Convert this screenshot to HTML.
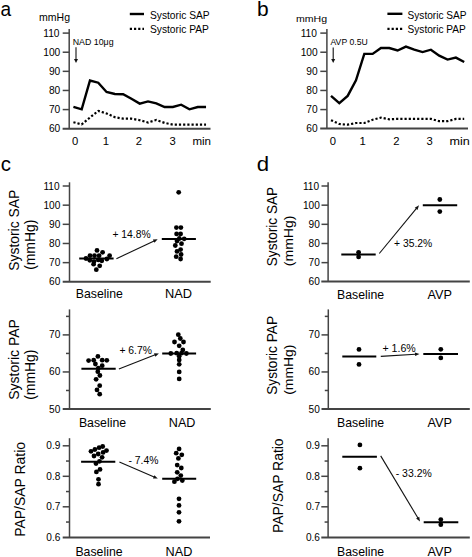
<!DOCTYPE html>
<html><head><meta charset="utf-8"><style>
html,body{margin:0;padding:0;background:#fff;width:472px;height:557px;overflow:hidden;position:relative;font-family:"Liberation Sans", sans-serif;}
text{font-family:"Liberation Sans", sans-serif;}
</style></head><body>
<svg width="472" height="557" viewBox="0 0 472 557" style="position:absolute;left:0;top:0;font-family:'Liberation Sans', sans-serif">
<rect width="472" height="557" fill="#fff"/>
<text transform="translate(0.59,15.70) scale(0.9505,1)" font-size="20.07" fill="#000" >a</text>
<text transform="translate(257.05,15.60) scale(1.0819,1)" font-size="19.32" fill="#000" >b</text>
<text transform="translate(0.63,171.30) scale(0.9806,1)" font-size="20.81" fill="#000" >c</text>
<text transform="translate(256.87,171.00) scale(1.1347,1)" font-size="19.60" fill="#000" >d</text>
<line x1="69.20" y1="29.00" x2="69.20" y2="128.70" stroke="#444" stroke-width="1.5" />
<line x1="62.70" y1="33.10" x2="69.20" y2="33.10" stroke="#444" stroke-width="1.5" />
<line x1="62.70" y1="52.22" x2="69.20" y2="52.22" stroke="#444" stroke-width="1.5" />
<line x1="62.70" y1="71.34" x2="69.20" y2="71.34" stroke="#444" stroke-width="1.5" />
<line x1="62.70" y1="90.46" x2="69.20" y2="90.46" stroke="#444" stroke-width="1.5" />
<line x1="62.70" y1="109.58" x2="69.20" y2="109.58" stroke="#444" stroke-width="1.5" />
<line x1="62.60" y1="128.70" x2="210.50" y2="128.70" stroke="#444" stroke-width="2.0" />
<text transform="translate(43.28,36.66) scale(1.0000,1)" font-size="10.20" fill="#000" >110</text>
<text transform="translate(43.28,55.78) scale(1.0000,1)" font-size="10.20" fill="#000" >100</text>
<text transform="translate(48.95,74.90) scale(1.0000,1)" font-size="10.20" fill="#000" >90</text>
<text transform="translate(48.95,94.02) scale(1.0000,1)" font-size="10.20" fill="#000" >80</text>
<text transform="translate(48.95,113.14) scale(1.0000,1)" font-size="10.20" fill="#000" >70</text>
<text transform="translate(48.95,132.26) scale(1.0000,1)" font-size="10.20" fill="#000" >60</text>
<text transform="translate(39.10,20.90) scale(1.0340,1)" font-size="10.17" fill="#000" >mmHg</text>
<text transform="translate(72.68,44.80) scale(0.9939,1)" font-size="8.88" fill="#000" >NAD 10μg</text>
<line x1="76.00" y1="47.30" x2="76.00" y2="59.50" stroke="#111" stroke-width="1.1" />
<polygon points="76.00,63.00 74.00,59.00 78.00,59.00" fill="#111"/>
<polyline points="73.40,106.90 81.69,109.30 89.98,80.50 98.27,82.70 106.56,92.00 114.85,94.00 123.14,94.20 131.43,98.80 139.72,103.60 148.01,101.40 156.30,103.40 164.59,107.00 172.88,107.00 181.17,104.70 189.46,109.30 197.75,107.00 206.04,107.00" fill="none" stroke="#000" stroke-width="2.4" stroke-linejoin="miter" />
<polyline points="73.40,122.20 81.69,124.40 89.98,117.50 98.27,110.90 106.56,113.50 114.85,117.20 123.14,118.70 131.43,118.70 139.72,120.20 148.01,122.50 156.30,120.00 164.59,122.90 172.88,124.60 181.17,124.60 189.46,124.60 197.75,124.60 206.04,124.60" fill="none" stroke="#000" stroke-width="2.2" stroke-linejoin="miter" stroke-dasharray="2.2 2.0"/>
<line x1="129.80" y1="14.00" x2="144.00" y2="14.00" stroke="#000" stroke-width="2.4" />
<line x1="129.80" y1="28.80" x2="144.00" y2="28.80" stroke="#000" stroke-width="2.2" stroke-dasharray="2.2 2.0"/>
<text transform="translate(149.93,19.00) scale(0.9284,1)" font-size="11.04" fill="#000" >Systoric SAP</text>
<text transform="translate(149.93,33.00) scale(0.9284,1)" font-size="11.04" fill="#000" >Systoric PAP</text>
<text transform="translate(71.97,144.60) scale(1.0206,1)" font-size="11.03" fill="#000" >0</text>
<text transform="translate(102.68,144.60) scale(1.0178,1)" font-size="11.19" fill="#000" >1</text>
<text transform="translate(135.75,144.60) scale(1.0262,1)" font-size="11.03" fill="#000" >2</text>
<text transform="translate(169.60,144.60) scale(1.0216,1)" font-size="11.03" fill="#000" >3</text>
<text transform="translate(192.43,144.60) scale(1.0873,1)" font-size="10.63" fill="#000" >min</text>
<line x1="326.90" y1="29.00" x2="326.90" y2="128.60" stroke="#444" stroke-width="1.5" />
<line x1="320.30" y1="33.10" x2="326.90" y2="33.10" stroke="#444" stroke-width="1.5" />
<line x1="320.30" y1="52.22" x2="326.90" y2="52.22" stroke="#444" stroke-width="1.5" />
<line x1="320.30" y1="71.34" x2="326.90" y2="71.34" stroke="#444" stroke-width="1.5" />
<line x1="320.30" y1="90.46" x2="326.90" y2="90.46" stroke="#444" stroke-width="1.5" />
<line x1="320.30" y1="109.58" x2="326.90" y2="109.58" stroke="#444" stroke-width="1.5" />
<line x1="320.20" y1="128.50" x2="468.00" y2="128.50" stroke="#444" stroke-width="2.0" />
<text transform="translate(300.68,36.66) scale(1.0000,1)" font-size="10.20" fill="#000" >110</text>
<text transform="translate(300.68,55.78) scale(1.0000,1)" font-size="10.20" fill="#000" >100</text>
<text transform="translate(306.35,74.90) scale(1.0000,1)" font-size="10.20" fill="#000" >90</text>
<text transform="translate(306.35,94.02) scale(1.0000,1)" font-size="10.20" fill="#000" >80</text>
<text transform="translate(306.35,113.14) scale(1.0000,1)" font-size="10.20" fill="#000" >70</text>
<text transform="translate(306.35,132.26) scale(1.0000,1)" font-size="10.20" fill="#000" >60</text>
<text transform="translate(296.00,21.70) scale(1.0716,1)" font-size="9.88" fill="#000" >mmHg</text>
<text transform="translate(330.48,44.80) scale(0.9768,1)" font-size="8.88" fill="#000" >AVP 0.5U</text>
<line x1="333.20" y1="47.50" x2="333.20" y2="59.50" stroke="#111" stroke-width="1.1" />
<polygon points="333.20,63.00 331.20,59.00 335.20,59.00" fill="#111"/>
<polyline points="331.00,95.90 339.32,103.20 347.65,95.90 355.98,80.30 364.30,53.90 372.62,53.90 380.95,48.00 389.27,48.00 397.60,50.50 405.93,46.60 414.25,49.70 422.57,52.10 430.90,49.70 439.23,55.70 447.55,59.60 455.88,57.60 464.20,62.00" fill="none" stroke="#000" stroke-width="2.4" stroke-linejoin="miter" />
<polyline points="331.00,120.20 339.32,124.00 347.65,124.70 355.98,123.00 364.30,123.00 372.62,119.70 380.95,117.60 389.27,119.30 397.60,118.90 405.93,118.90 414.25,118.90 422.57,118.90 430.90,118.90 439.23,121.20 447.55,121.20 455.88,118.90 464.20,118.90" fill="none" stroke="#000" stroke-width="2.2" stroke-linejoin="miter" stroke-dasharray="2.2 2.0"/>
<line x1="387.40" y1="13.80" x2="402.40" y2="13.80" stroke="#000" stroke-width="2.4" />
<line x1="387.40" y1="28.80" x2="402.40" y2="28.80" stroke="#000" stroke-width="2.2" stroke-dasharray="2.2 2.0"/>
<text transform="translate(407.54,18.60) scale(0.9173,1)" font-size="11.04" fill="#000" >Systoric SAP</text>
<text transform="translate(407.54,32.60) scale(0.9173,1)" font-size="11.04" fill="#000" >Systoric PAP</text>
<text transform="translate(329.77,144.60) scale(1.0206,1)" font-size="11.03" fill="#000" >0</text>
<text transform="translate(359.48,144.60) scale(1.0178,1)" font-size="11.19" fill="#000" >1</text>
<text transform="translate(393.15,144.60) scale(1.0262,1)" font-size="11.03" fill="#000" >2</text>
<text transform="translate(426.40,144.60) scale(1.0216,1)" font-size="11.03" fill="#000" >3</text>
<text transform="translate(449.47,144.60) scale(1.1827,1)" font-size="10.63" fill="#000" >min</text>
<line x1="69.50" y1="182.30" x2="69.50" y2="281.80" stroke="#444" stroke-width="1.5" />
<line x1="62.70" y1="281.80" x2="210.70" y2="281.80" stroke="#444" stroke-width="2.0" />
<text transform="translate(43.44,189.53) scale(1.0000,1)" font-size="10.10" fill="#000" >110</text>
<text transform="translate(43.44,208.69) scale(1.0000,1)" font-size="10.10" fill="#000" >100</text>
<text transform="translate(49.06,227.85) scale(1.0000,1)" font-size="10.10" fill="#000" >90</text>
<text transform="translate(49.06,247.01) scale(1.0000,1)" font-size="10.10" fill="#000" >80</text>
<text transform="translate(49.06,266.17) scale(1.0000,1)" font-size="10.10" fill="#000" >70</text>
<text transform="translate(49.06,285.33) scale(1.0000,1)" font-size="10.10" fill="#000" >60</text>
<line x1="62.70" y1="186.00" x2="69.50" y2="186.00" stroke="#444" stroke-width="1.5" />
<line x1="62.70" y1="205.16" x2="69.50" y2="205.16" stroke="#444" stroke-width="1.5" />
<line x1="62.70" y1="224.32" x2="69.50" y2="224.32" stroke="#444" stroke-width="1.5" />
<line x1="62.70" y1="243.48" x2="69.50" y2="243.48" stroke="#444" stroke-width="1.5" />
<line x1="62.70" y1="262.64" x2="69.50" y2="262.64" stroke="#444" stroke-width="1.5" />
<text transform="translate(19.30,270.73) rotate(-90) scale(0.9485,1)" font-size="14.63" fill="#000">Systoric SAP</text>
<text transform="translate(75.69,297.90) scale(1.0144,1)" font-size="12.14" fill="#000" >Baseline</text>
<text transform="translate(165.05,297.90) scale(1.0022,1)" font-size="12.79" fill="#000" >NAD</text>
<line x1="79.20" y1="258.60" x2="113.60" y2="258.60" stroke="#000" stroke-width="2.0" />
<line x1="161.80" y1="239.00" x2="195.90" y2="239.00" stroke="#000" stroke-width="2.0" />
<line x1="116.40" y1="258.70" x2="154.08" y2="240.91" stroke="#111" stroke-width="1.1" />
<polygon points="157.70,239.20 154.40,242.75 152.86,239.49" fill="#111"/>
<text transform="translate(112.39,238.08) scale(1.0232,1)" font-size="10.12" fill="#000" >+ 14.8%</text>
<circle cx="86.00" cy="258.50" r="2.4" fill="#000"/>
<circle cx="90.00" cy="255.70" r="2.4" fill="#000"/>
<circle cx="94.50" cy="255.70" r="2.4" fill="#000"/>
<circle cx="99.10" cy="255.70" r="2.4" fill="#000"/>
<circle cx="97.00" cy="250.40" r="2.4" fill="#000"/>
<circle cx="102.60" cy="252.30" r="2.4" fill="#000"/>
<circle cx="89.80" cy="260.30" r="2.4" fill="#000"/>
<circle cx="94.00" cy="261.60" r="2.4" fill="#000"/>
<circle cx="98.30" cy="259.90" r="2.4" fill="#000"/>
<circle cx="101.80" cy="260.80" r="2.4" fill="#000"/>
<circle cx="106.90" cy="259.00" r="2.4" fill="#000"/>
<circle cx="109.60" cy="255.70" r="2.4" fill="#000"/>
<circle cx="93.60" cy="264.20" r="2.4" fill="#000"/>
<circle cx="99.70" cy="265.80" r="2.4" fill="#000"/>
<circle cx="96.30" cy="269.70" r="2.4" fill="#000"/>
<circle cx="178.70" cy="192.30" r="2.4" fill="#000"/>
<circle cx="176.40" cy="227.60" r="2.4" fill="#000"/>
<circle cx="180.90" cy="227.60" r="2.4" fill="#000"/>
<circle cx="176.60" cy="233.90" r="2.4" fill="#000"/>
<circle cx="180.60" cy="233.90" r="2.4" fill="#000"/>
<circle cx="179.30" cy="238.50" r="2.4" fill="#000"/>
<circle cx="184.20" cy="238.80" r="2.4" fill="#000"/>
<circle cx="177.00" cy="241.00" r="2.4" fill="#000"/>
<circle cx="181.50" cy="243.70" r="2.4" fill="#000"/>
<circle cx="175.30" cy="245.50" r="2.4" fill="#000"/>
<circle cx="180.60" cy="249.60" r="2.4" fill="#000"/>
<circle cx="177.00" cy="251.40" r="2.4" fill="#000"/>
<circle cx="181.10" cy="254.50" r="2.4" fill="#000"/>
<circle cx="176.20" cy="256.70" r="2.4" fill="#000"/>
<circle cx="180.60" cy="259.00" r="2.4" fill="#000"/>
<text transform="translate(19.20,399.84) rotate(-90) scale(0.9328,1)" font-size="15.04" fill="#000">Systoric PAP</text>
<line x1="69.50" y1="309.40" x2="69.50" y2="408.90" stroke="#444" stroke-width="1.5" />
<line x1="62.70" y1="334.90" x2="69.50" y2="334.90" stroke="#444" stroke-width="1.5" />
<line x1="62.70" y1="371.95" x2="69.50" y2="371.95" stroke="#444" stroke-width="1.5" />
<line x1="66.00" y1="316.38" x2="69.50" y2="316.38" stroke="#444" stroke-width="1.5" />
<line x1="66.00" y1="353.43" x2="69.50" y2="353.43" stroke="#444" stroke-width="1.5" />
<line x1="66.00" y1="390.48" x2="69.50" y2="390.48" stroke="#444" stroke-width="1.5" />
<line x1="62.70" y1="408.90" x2="210.80" y2="408.90" stroke="#444" stroke-width="2.0" />
<text transform="translate(49.06,338.43) scale(1.0000,1)" font-size="10.10" fill="#000" >70</text>
<text transform="translate(49.06,375.48) scale(1.0000,1)" font-size="10.10" fill="#000" >60</text>
<text transform="translate(49.06,412.53) scale(1.0000,1)" font-size="10.10" fill="#000" >50</text>
<text transform="translate(78.89,426.60) scale(0.9919,1)" font-size="12.42" fill="#000" >Baseline</text>
<text transform="translate(168.87,426.60) scale(0.9645,1)" font-size="13.08" fill="#000" >NAD</text>
<line x1="81.40" y1="368.80" x2="115.70" y2="368.80" stroke="#000" stroke-width="2.0" />
<line x1="162.20" y1="353.50" x2="196.10" y2="353.50" stroke="#000" stroke-width="2.0" />
<line x1="118.90" y1="369.00" x2="155.17" y2="354.85" stroke="#111" stroke-width="1.1" />
<polygon points="158.90,353.40 155.36,356.71 154.05,353.36" fill="#111"/>
<text transform="translate(119.39,354.26) scale(0.9892,1)" font-size="10.48" fill="#000" >+ 6.7%</text>
<circle cx="97.90" cy="356.40" r="2.4" fill="#000"/>
<circle cx="88.60" cy="360.60" r="2.4" fill="#000"/>
<circle cx="93.70" cy="360.20" r="2.4" fill="#000"/>
<circle cx="102.20" cy="360.20" r="2.4" fill="#000"/>
<circle cx="106.80" cy="360.30" r="2.4" fill="#000"/>
<circle cx="95.40" cy="364.00" r="2.4" fill="#000"/>
<circle cx="102.20" cy="365.70" r="2.4" fill="#000"/>
<circle cx="98.30" cy="368.20" r="2.4" fill="#000"/>
<circle cx="97.80" cy="371.70" r="2.4" fill="#000"/>
<circle cx="99.90" cy="375.50" r="2.4" fill="#000"/>
<circle cx="96.10" cy="379.30" r="2.4" fill="#000"/>
<circle cx="99.70" cy="385.70" r="2.4" fill="#000"/>
<circle cx="97.00" cy="389.90" r="2.4" fill="#000"/>
<circle cx="99.70" cy="394.20" r="2.4" fill="#000"/>
<circle cx="178.30" cy="334.70" r="2.4" fill="#000"/>
<circle cx="180.30" cy="338.50" r="2.4" fill="#000"/>
<circle cx="174.50" cy="342.00" r="2.4" fill="#000"/>
<circle cx="183.50" cy="342.00" r="2.4" fill="#000"/>
<circle cx="179.20" cy="345.80" r="2.4" fill="#000"/>
<circle cx="182.80" cy="350.00" r="2.4" fill="#000"/>
<circle cx="170.80" cy="353.50" r="2.4" fill="#000"/>
<circle cx="176.70" cy="353.20" r="2.4" fill="#000"/>
<circle cx="181.50" cy="353.20" r="2.4" fill="#000"/>
<circle cx="186.40" cy="353.50" r="2.4" fill="#000"/>
<circle cx="179.20" cy="356.20" r="2.4" fill="#000"/>
<circle cx="179.20" cy="360.00" r="2.4" fill="#000"/>
<circle cx="179.20" cy="364.30" r="2.4" fill="#000"/>
<circle cx="179.20" cy="371.90" r="2.4" fill="#000"/>
<circle cx="179.20" cy="378.90" r="2.4" fill="#000"/>
<line x1="69.50" y1="438.20" x2="69.50" y2="537.40" stroke="#444" stroke-width="1.5" />
<line x1="62.70" y1="445.80" x2="69.50" y2="445.80" stroke="#444" stroke-width="1.5" />
<line x1="62.70" y1="476.30" x2="69.50" y2="476.30" stroke="#444" stroke-width="1.5" />
<line x1="62.70" y1="506.80" x2="69.50" y2="506.80" stroke="#444" stroke-width="1.5" />
<line x1="66.00" y1="461.05" x2="69.50" y2="461.05" stroke="#444" stroke-width="1.5" />
<line x1="66.00" y1="491.55" x2="69.50" y2="491.55" stroke="#444" stroke-width="1.5" />
<line x1="66.00" y1="522.05" x2="69.50" y2="522.05" stroke="#444" stroke-width="1.5" />
<line x1="62.70" y1="537.40" x2="210.00" y2="537.40" stroke="#444" stroke-width="2.0" />
<text transform="translate(46.34,449.33) scale(1.0000,1)" font-size="10.10" fill="#000" >0.9</text>
<text transform="translate(46.30,479.83) scale(1.0000,1)" font-size="10.10" fill="#000" >0.8</text>
<text transform="translate(46.37,510.33) scale(1.0000,1)" font-size="10.10" fill="#000" >0.7</text>
<text transform="translate(46.30,540.83) scale(1.0000,1)" font-size="10.10" fill="#000" >0.6</text>
<text transform="translate(75.39,555.80) scale(1.0144,1)" font-size="12.14" fill="#000" >Baseline</text>
<text transform="translate(165.56,555.80) scale(0.9904,1)" font-size="12.79" fill="#000" >NAD</text>
<line x1="81.10" y1="461.80" x2="115.30" y2="461.80" stroke="#000" stroke-width="2.0" />
<line x1="162.20" y1="478.80" x2="196.20" y2="478.80" stroke="#000" stroke-width="2.0" />
<line x1="119.40" y1="462.10" x2="154.12" y2="477.02" stroke="#111" stroke-width="1.1" />
<polygon points="157.80,478.60 152.95,478.48 154.38,475.17" fill="#111"/>
<text transform="translate(128.44,463.68) scale(1.0220,1)" font-size="10.17" fill="#000" >- 7.4%</text>
<circle cx="102.70" cy="446.50" r="2.4" fill="#000"/>
<circle cx="99.10" cy="447.70" r="2.4" fill="#000"/>
<circle cx="94.90" cy="449.50" r="2.4" fill="#000"/>
<circle cx="91.00" cy="451.30" r="2.4" fill="#000"/>
<circle cx="106.50" cy="450.60" r="2.4" fill="#000"/>
<circle cx="103.10" cy="452.40" r="2.4" fill="#000"/>
<circle cx="98.20" cy="454.00" r="2.4" fill="#000"/>
<circle cx="94.00" cy="456.00" r="2.4" fill="#000"/>
<circle cx="102.10" cy="457.30" r="2.4" fill="#000"/>
<circle cx="99.50" cy="461.30" r="2.4" fill="#000"/>
<circle cx="96.00" cy="463.60" r="2.4" fill="#000"/>
<circle cx="100.00" cy="469.40" r="2.4" fill="#000"/>
<circle cx="96.40" cy="471.90" r="2.4" fill="#000"/>
<circle cx="98.50" cy="479.30" r="2.4" fill="#000"/>
<circle cx="98.50" cy="484.20" r="2.4" fill="#000"/>
<circle cx="179.10" cy="448.90" r="2.4" fill="#000"/>
<circle cx="176.20" cy="453.20" r="2.4" fill="#000"/>
<circle cx="181.80" cy="454.80" r="2.4" fill="#000"/>
<circle cx="178.40" cy="458.40" r="2.4" fill="#000"/>
<circle cx="177.20" cy="465.10" r="2.4" fill="#000"/>
<circle cx="181.30" cy="468.00" r="2.4" fill="#000"/>
<circle cx="177.20" cy="472.30" r="2.4" fill="#000"/>
<circle cx="180.80" cy="475.60" r="2.4" fill="#000"/>
<circle cx="177.50" cy="478.80" r="2.4" fill="#000"/>
<circle cx="174.40" cy="481.70" r="2.4" fill="#000"/>
<circle cx="182.30" cy="480.60" r="2.4" fill="#000"/>
<circle cx="179.00" cy="498.80" r="2.4" fill="#000"/>
<circle cx="179.00" cy="505.40" r="2.4" fill="#000"/>
<circle cx="179.00" cy="512.30" r="2.4" fill="#000"/>
<circle cx="179.00" cy="521.30" r="2.4" fill="#000"/>
<text transform="translate(24.90,536.75) rotate(-90) scale(0.9728,1)" font-size="14.35" fill="#000">PAP/SAP Ratio</text>
<line x1="328.10" y1="182.30" x2="328.10" y2="281.60" stroke="#444" stroke-width="1.5" />
<line x1="321.30" y1="281.60" x2="469.80" y2="281.60" stroke="#444" stroke-width="2.0" />
<text transform="translate(302.94,189.53) scale(1.0000,1)" font-size="10.10" fill="#000" >110</text>
<text transform="translate(302.94,208.69) scale(1.0000,1)" font-size="10.10" fill="#000" >100</text>
<text transform="translate(308.56,227.85) scale(1.0000,1)" font-size="10.10" fill="#000" >90</text>
<text transform="translate(308.56,247.01) scale(1.0000,1)" font-size="10.10" fill="#000" >80</text>
<text transform="translate(308.56,266.17) scale(1.0000,1)" font-size="10.10" fill="#000" >70</text>
<text transform="translate(308.56,285.33) scale(1.0000,1)" font-size="10.10" fill="#000" >60</text>
<line x1="321.50" y1="186.00" x2="328.10" y2="186.00" stroke="#444" stroke-width="1.5" />
<line x1="321.50" y1="205.16" x2="328.10" y2="205.16" stroke="#444" stroke-width="1.5" />
<line x1="321.50" y1="224.32" x2="328.10" y2="224.32" stroke="#444" stroke-width="1.5" />
<line x1="321.50" y1="243.48" x2="328.10" y2="243.48" stroke="#444" stroke-width="1.5" />
<line x1="321.50" y1="262.64" x2="328.10" y2="262.64" stroke="#444" stroke-width="1.5" />
<text transform="translate(337.09,298.80) scale(1.0008,1)" font-size="12.28" fill="#000" >Baseline</text>
<text transform="translate(427.58,298.80) scale(0.9810,1)" font-size="12.94" fill="#000" >AVP</text>
<line x1="341.30" y1="254.60" x2="375.70" y2="254.60" stroke="#000" stroke-width="2.0" />
<line x1="422.80" y1="205.30" x2="457.20" y2="205.30" stroke="#000" stroke-width="2.0" />
<line x1="379.30" y1="253.50" x2="416.46" y2="208.39" stroke="#111" stroke-width="1.1" />
<polygon points="419.00,205.30 417.53,209.92 414.75,207.63" fill="#111"/>
<text transform="translate(394.09,247.31) scale(1.0020,1)" font-size="10.33" fill="#000" >+ 35.2%</text>
<circle cx="358.60" cy="252.30" r="2.4" fill="#000"/>
<circle cx="358.60" cy="256.90" r="2.4" fill="#000"/>
<circle cx="439.80" cy="199.50" r="2.4" fill="#000"/>
<circle cx="439.80" cy="211.60" r="2.4" fill="#000"/>
<text transform="translate(277.00,266.22) rotate(-90) scale(0.9383,1)" font-size="14.49" fill="#000">Systoric SAP</text>
<line x1="328.30" y1="309.40" x2="328.30" y2="409.00" stroke="#444" stroke-width="1.5" />
<line x1="321.50" y1="334.90" x2="328.30" y2="334.90" stroke="#444" stroke-width="1.5" />
<line x1="321.50" y1="371.95" x2="328.30" y2="371.95" stroke="#444" stroke-width="1.5" />
<line x1="324.80" y1="316.38" x2="328.30" y2="316.38" stroke="#444" stroke-width="1.5" />
<line x1="324.80" y1="353.43" x2="328.30" y2="353.43" stroke="#444" stroke-width="1.5" />
<line x1="324.80" y1="390.48" x2="328.30" y2="390.48" stroke="#444" stroke-width="1.5" />
<line x1="321.50" y1="409.00" x2="469.80" y2="409.00" stroke="#444" stroke-width="2.0" />
<text transform="translate(308.56,338.43) scale(1.0000,1)" font-size="10.10" fill="#000" >70</text>
<text transform="translate(308.56,375.48) scale(1.0000,1)" font-size="10.10" fill="#000" >60</text>
<text transform="translate(308.56,412.53) scale(1.0000,1)" font-size="10.10" fill="#000" >50</text>
<text transform="translate(337.09,426.80) scale(1.0122,1)" font-size="12.14" fill="#000" >Baseline</text>
<text transform="translate(427.58,426.80) scale(0.9922,1)" font-size="12.79" fill="#000" >AVP</text>
<line x1="342.30" y1="356.60" x2="376.30" y2="356.60" stroke="#000" stroke-width="2.0" />
<line x1="423.30" y1="354.10" x2="458.00" y2="354.10" stroke="#000" stroke-width="2.0" />
<line x1="380.80" y1="356.40" x2="415.51" y2="354.25" stroke="#111" stroke-width="1.1" />
<polygon points="419.50,354.00 415.12,356.08 414.90,352.48" fill="#111"/>
<text transform="translate(382.38,351.61) scale(1.0294,1)" font-size="10.33" fill="#000" >+ 1.6%</text>
<circle cx="359.00" cy="349.40" r="2.4" fill="#000"/>
<circle cx="359.00" cy="364.40" r="2.4" fill="#000"/>
<circle cx="440.80" cy="349.30" r="2.4" fill="#000"/>
<circle cx="440.80" cy="357.90" r="2.4" fill="#000"/>
<text transform="translate(277.00,394.82) rotate(-90) scale(0.9455,1)" font-size="14.49" fill="#000">Systoric PAP</text>
<line x1="328.10" y1="438.20" x2="328.10" y2="537.50" stroke="#444" stroke-width="1.5" />
<line x1="321.30" y1="445.80" x2="328.10" y2="445.80" stroke="#444" stroke-width="1.5" />
<line x1="321.30" y1="476.30" x2="328.10" y2="476.30" stroke="#444" stroke-width="1.5" />
<line x1="321.30" y1="506.80" x2="328.10" y2="506.80" stroke="#444" stroke-width="1.5" />
<line x1="324.60" y1="461.05" x2="328.10" y2="461.05" stroke="#444" stroke-width="1.5" />
<line x1="324.60" y1="491.55" x2="328.10" y2="491.55" stroke="#444" stroke-width="1.5" />
<line x1="324.60" y1="522.05" x2="328.10" y2="522.05" stroke="#444" stroke-width="1.5" />
<line x1="321.30" y1="537.50" x2="469.80" y2="537.50" stroke="#444" stroke-width="2.0" />
<text transform="translate(305.94,449.33) scale(1.0000,1)" font-size="10.10" fill="#000" >0.9</text>
<text transform="translate(305.90,479.83) scale(1.0000,1)" font-size="10.10" fill="#000" >0.8</text>
<text transform="translate(305.97,510.33) scale(1.0000,1)" font-size="10.10" fill="#000" >0.7</text>
<text transform="translate(305.90,540.83) scale(1.0000,1)" font-size="10.10" fill="#000" >0.6</text>
<text transform="translate(337.09,555.60) scale(1.0008,1)" font-size="12.28" fill="#000" >Baseline</text>
<text transform="translate(427.58,555.60) scale(0.9810,1)" font-size="12.94" fill="#000" >AVP</text>
<line x1="342.30" y1="456.80" x2="376.90" y2="456.80" stroke="#000" stroke-width="2.0" />
<line x1="423.70" y1="522.20" x2="458.30" y2="522.20" stroke="#000" stroke-width="2.0" />
<line x1="380.70" y1="455.90" x2="417.94" y2="518.07" stroke="#111" stroke-width="1.1" />
<polygon points="420.00,521.50 416.14,518.56 419.23,516.71" fill="#111"/>
<text transform="translate(395.74,476.68) scale(0.9933,1)" font-size="10.53" fill="#000" >- 33.2%</text>
<circle cx="359.90" cy="444.90" r="2.4" fill="#000"/>
<circle cx="359.90" cy="468.20" r="2.4" fill="#000"/>
<circle cx="440.80" cy="519.60" r="2.4" fill="#000"/>
<circle cx="440.80" cy="524.70" r="2.4" fill="#000"/>
<text transform="translate(282.70,532.94) rotate(-90) scale(0.9877,1)" font-size="14.08" fill="#000">PAP/SAP Ratio</text>
<text transform="translate(35.44,269.86) rotate(-90) scale(0.9750,1)" font-size="14.27" fill="#000">(mmHg)</text>
<text transform="translate(35.28,399.76) rotate(-90) scale(0.9899,1)" font-size="14.05" fill="#000">(mmHg)</text>
<text transform="translate(293.08,266.17) rotate(-90) scale(1.0695,1)" font-size="13.09" fill="#000">(mmHg)</text>
<text transform="translate(293.08,394.76) rotate(-90) scale(1.0607,1)" font-size="13.09" fill="#000">(mmHg)</text>
</svg>
</body></html>
